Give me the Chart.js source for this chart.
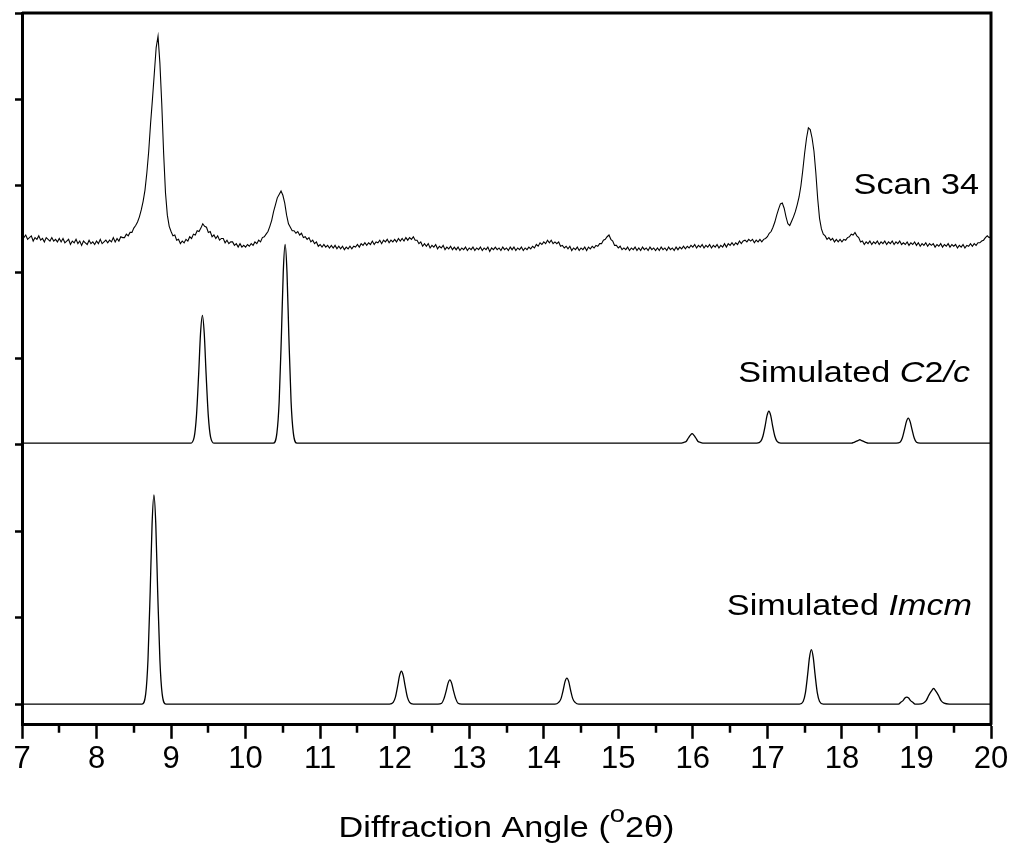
<!DOCTYPE html>
<html>
<head>
<meta charset="utf-8">
<script src="https://cdn.jsdelivr.net/npm/chart.js@4.4.0/dist/chart.umd.min.js"></script>
<style>
  html, body { margin: 0; padding: 0; background: #fff; }
  #xrd { display: block; }
</style>
</head>
<body>
<canvas id="xrd" width="1011" height="848"></canvas>
<script>
// x range of the plot, degrees 2-theta
const angleMin = 7;
const angleMax = 20;
const yTickValues = [0, 1, 2, 3, 4, 5, 6, 7, 8];

// measured scan: uniform step from 7.000 to 20.000 deg, one row per degree
const scanStart = 7;
const scanStep = 0.025;
const scan34 = [
  5.43,5.40,5.43,5.38,5.40,5.42,5.36,5.40,5.38,5.42,5.37,5.39,5.35,5.40,5.38,5.36,5.40,5.36,5.38,5.35,
  5.39,5.35,5.39,5.34,5.36,5.38,5.32,5.36,5.34,5.38,5.33,5.36,5.31,5.36,5.34,5.32,5.37,5.33,5.35,5.32,
  5.36,5.33,5.38,5.33,5.35,5.37,5.34,5.37,5.35,5.40,5.35,5.39,5.36,5.41,5.40,5.40,5.44,5.42,5.46,5.46,
  5.51,5.54,5.58,5.64,5.72,5.82,5.95,6.15,6.40,6.72,7.00,7.30,7.60,7.73,7.42,6.95,6.38,5.92,5.66,5.53,
  5.47,5.42,5.43,5.37,5.38,5.33,5.36,5.34,5.38,5.36,5.41,5.39,5.44,5.43,5.48,5.47,5.51,5.56,5.53,5.52,
  5.46,5.47,5.41,5.43,5.39,5.42,5.37,5.39,5.39,5.34,5.37,5.33,5.35,5.35,5.31,5.33,5.29,5.33,5.29,5.31,
  5.29,5.32,5.30,5.33,5.31,5.35,5.33,5.37,5.35,5.40,5.41,5.44,5.47,5.53,5.60,5.70,5.78,5.86,5.90,5.94,
  5.89,5.80,5.66,5.56,5.52,5.48,5.48,5.45,5.47,5.43,5.45,5.40,5.41,5.38,5.40,5.35,5.37,5.33,5.35,5.30,
  5.32,5.29,5.32,5.29,5.31,5.28,5.31,5.28,5.31,5.27,5.30,5.27,5.30,5.26,5.29,5.27,5.30,5.27,5.30,5.29,
  5.32,5.29,5.33,5.31,5.34,5.31,5.34,5.32,5.36,5.32,5.35,5.34,5.37,5.33,5.37,5.35,5.38,5.34,5.37,5.35,
  5.38,5.35,5.39,5.36,5.39,5.36,5.40,5.37,5.40,5.38,5.41,5.37,5.37,5.33,5.35,5.30,5.33,5.30,5.33,5.28,
  5.31,5.29,5.32,5.27,5.30,5.28,5.31,5.26,5.29,5.27,5.30,5.26,5.29,5.26,5.29,5.25,5.28,5.26,5.29,5.25,
  5.28,5.26,5.29,5.25,5.28,5.26,5.29,5.25,5.28,5.26,5.29,5.24,5.28,5.26,5.29,5.26,5.28,5.25,5.29,5.26,
  5.28,5.25,5.29,5.26,5.29,5.25,5.28,5.26,5.29,5.25,5.28,5.26,5.29,5.27,5.30,5.28,5.32,5.30,5.34,5.32,
  5.35,5.33,5.37,5.34,5.37,5.33,5.35,5.33,5.35,5.30,5.31,5.28,5.30,5.27,5.30,5.25,5.28,5.26,5.29,5.25,
  5.28,5.26,5.29,5.25,5.29,5.27,5.30,5.28,5.31,5.30,5.33,5.33,5.37,5.38,5.41,5.43,5.38,5.36,5.31,5.31,
  5.28,5.30,5.26,5.28,5.26,5.29,5.25,5.28,5.26,5.29,5.25,5.28,5.25,5.29,5.26,5.28,5.25,5.29,5.26,5.28,
  5.25,5.28,5.25,5.29,5.26,5.28,5.25,5.29,5.26,5.28,5.25,5.29,5.26,5.29,5.27,5.30,5.27,5.30,5.28,5.31,
  5.29,5.32,5.28,5.31,5.29,5.32,5.28,5.31,5.29,5.32,5.28,5.31,5.29,5.32,5.28,5.31,5.29,5.33,5.29,5.33,
  5.31,5.34,5.31,5.34,5.32,5.36,5.33,5.36,5.37,5.35,5.38,5.36,5.38,5.34,5.37,5.35,5.38,5.35,5.38,5.39,
  5.41,5.45,5.47,5.52,5.58,5.66,5.73,5.79,5.80,5.74,5.64,5.56,5.54,5.59,5.64,5.70,5.78,5.87,6.00,6.18,
  6.38,6.55,6.67,6.65,6.55,6.40,6.15,5.85,5.62,5.50,5.44,5.42,5.38,5.40,5.37,5.39,5.35,5.38,5.35,5.38,
  5.35,5.38,5.37,5.40,5.41,5.44,5.43,5.46,5.42,5.40,5.35,5.36,5.32,5.35,5.33,5.36,5.32,5.35,5.33,5.36,
  5.32,5.35,5.33,5.36,5.32,5.35,5.33,5.36,5.32,5.35,5.33,5.36,5.32,5.34,5.32,5.35,5.31,5.34,5.32,5.35,
  5.31,5.34,5.30,5.33,5.31,5.34,5.30,5.33,5.31,5.33,5.29,5.32,5.30,5.33,5.29,5.32,5.30,5.33,5.29,5.32,
  5.30,5.32,5.28,5.31,5.29,5.32,5.28,5.31,5.30,5.33,5.30,5.33,5.31,5.34,5.34,5.36,5.37,5.40,5.42,5.40,
  5.41
];

// simulated C2/c pattern, [angle, intensity]
const simC2c = [
  [7.00,3.02],
  [9.26,3.02],[9.31,3.09],[9.34,3.33],[9.37,3.82],[9.395,4.29],[9.42,4.50],
  [9.445,4.29],[9.47,3.82],[9.50,3.33],[9.53,3.09],[9.58,3.02],
  [10.37,3.02],[10.42,3.14],[10.45,3.50],[10.48,4.26],[10.505,5.00],[10.53,5.32],
  [10.555,5.00],[10.58,4.26],[10.61,3.50],[10.64,3.14],[10.69,3.02],
  [15.83,3.02],[15.88,3.03],[15.91,3.04],[15.94,3.08],[15.965,3.11],[15.99,3.13],
  [16.015,3.11],[16.04,3.08],[16.07,3.04],[16.10,3.03],[16.15,3.02],
  [16.86,3.02],[16.91,3.04],[16.94,3.10],[16.97,3.22],[16.995,3.34],[17.02,3.39],
  [17.045,3.34],[17.07,3.22],[17.10,3.10],[17.13,3.04],[17.18,3.02],
  [18.08,3.02],[18.13,3.02],[18.16,3.03],[18.19,3.04],[18.215,3.05],[18.24,3.06],
  [18.265,3.05],[18.29,3.04],[18.32,3.03],[18.35,3.02],[18.40,3.02],
  [18.73,3.02],[18.78,3.03],[18.81,3.08],[18.84,3.18],[18.865,3.27],[18.89,3.31],
  [18.915,3.27],[18.94,3.18],[18.97,3.08],[19.00,3.03],[19.05,3.02],
  [20.00,3.02]
];

// simulated Imcm pattern, [angle, intensity]
const simImcm = [
  [7.00,0],
  [8.61,0],[8.66,0.12],[8.69,0.51],[8.72,1.31],[8.745,2.08],[8.77,2.42],
  [8.795,2.08],[8.82,1.31],[8.85,0.51],[8.88,0.12],[8.93,0],
  [11.93,0],[11.98,0.02],[12.01,0.08],[12.04,0.21],[12.065,0.33],[12.09,0.38],
  [12.115,0.33],[12.14,0.21],[12.17,0.08],[12.20,0.02],[12.25,0],
  [12.58,0],[12.63,0.01],[12.66,0.06],[12.69,0.15],[12.715,0.24],[12.74,0.28],
  [12.765,0.24],[12.79,0.15],[12.82,0.06],[12.85,0.01],[12.90,0],
  [14.15,0],[14.20,0.02],[14.23,0.06],[14.26,0.16],[14.285,0.26],[14.31,0.30],
  [14.335,0.26],[14.36,0.16],[14.39,0.06],[14.42,0.02],[14.47,0],
  [17.43,0],[17.48,0.03],[17.51,0.13],[17.54,0.34],[17.565,0.54],[17.59,0.63],
  [17.615,0.54],[17.64,0.34],[17.67,0.13],[17.70,0.03],[17.75,0],
  [18.71,0],[18.76,0],[18.79,0.02],[18.82,0.04],[18.845,0.07],[18.87,0.08],
  [18.895,0.07],[18.92,0.04],[18.95,0.02],[18.98,0],[19.01,0],
  [19.03,0],[19.09,0.01],[19.13,0.04],[19.165,0.10],[19.20,0.15],[19.23,0.18],
  [19.26,0.15],[19.295,0.10],[19.33,0.04],[19.37,0.01],[19.44,0],
  [20.00,0]
];

// trace captions: text segments [text, italic], anchored at right end (angle, intensity)
const captionParts = [
  [['Scan 34', false]],
  [['Simulated ', false], ['C', true], ['2', false], ['/c', true]],
  [['Simulated ', false], ['Imcm', true]]
];
const captionAnchor = [[19.84, 5.91], [19.72, 3.73], [19.745, 1.03]];

const FONT = '"Liberation Sans", Arial, Helvetica, sans-serif';
const STRETCH = 1.14;

function pairsToPoints(arr) {
  return arr.map(p => ({ x: p[0], y: p[1] }));
}

function drawParts(ctx, parts, right, baseline, size) {
  let total = 0;
  const widths = parts.map(([txt, it]) => {
    ctx.font = (it ? 'italic ' : '') + size + 'px ' + FONT;
    const w = ctx.measureText(txt).width;
    total += w;
    return w;
  });
  ctx.save();
  ctx.translate(right - total * STRETCH, baseline);
  ctx.scale(STRETCH, 1);
  let x = 0;
  parts.forEach(([txt, it], i) => {
    ctx.font = (it ? 'italic ' : '') + size + 'px ' + FONT;
    ctx.fillText(txt, x, 0);
    x += widths[i];
  });
  ctx.restore();
}

const decorations = {
  id: 'decorations',
  afterDraw(chart) {
    const { ctx, chartArea: a, scales: { x, y } } = chart;
    ctx.save();
    ctx.strokeStyle = '#000';
    ctx.fillStyle = '#000';

    // top and right frame
    ctx.lineWidth = 3;
    ctx.beginPath();
    ctx.moveTo(a.left, a.top);
    ctx.lineTo(a.right, a.top);
    ctx.lineTo(a.right, a.bottom);
    ctx.stroke();

    // minor x ticks
    ctx.lineWidth = 2.5;
    ctx.beginPath();
    for (let v = angleMin + 0.5; v < angleMax; v += 1) {
      const px = Math.round(x.getPixelForValue(v));
      ctx.moveTo(px, a.bottom);
      ctx.lineTo(px, a.bottom + 8);
    }
    ctx.stroke();

    // captions
    ctx.textBaseline = 'alphabetic';
    captionParts.forEach((parts, i) => {
      const [ax, ay] = captionAnchor[i];
      drawParts(ctx, parts, x.getPixelForValue(ax), y.getPixelForValue(ay), 30);
    });

    // x axis title with raised degree mark
    const cx = (a.left + a.right) / 2;
    const base = 837;
    ctx.font = '30px ' + FONT;
    const w1 = ctx.measureText('Diffraction Angle (').width;
    const w3 = ctx.measureText('2\u03B8)').width;
    ctx.font = '24px ' + FONT;
    const w2 = ctx.measureText('o').width;
    const total = (w1 + w2 + w3) * STRETCH;
    ctx.save();
    ctx.translate(cx - total / 2, base);
    ctx.scale(STRETCH, 1);
    ctx.font = '30px ' + FONT;
    ctx.fillText('Diffraction Angle (', 0, 0);
    ctx.font = '24px ' + FONT;
    ctx.fillText('o', w1, -15);
    ctx.font = '30px ' + FONT;
    ctx.fillText('2\u03B8)', w1 + w2, 0);
    ctx.restore();

    ctx.restore();
  }
};

const lineStyle = {
  borderColor: '#000',
  borderWidth: 1.3,
  pointRadius: 0,
  fill: false
};

new Chart(document.getElementById('xrd'), {
  type: 'line',
  data: {
    datasets: [
      Object.assign({}, lineStyle, {
        label: 'Scan 34',
        data: scan34.map((v, i) => ({ x: scanStart + i * scanStep, y: v })),
        tension: 0,
        borderWidth: 1.1
      }),
      Object.assign({}, lineStyle, {
        label: 'Simulated C2/c',
        data: pairsToPoints(simC2c),
        cubicInterpolationMode: 'monotone'
      }),
      Object.assign({}, lineStyle, {
        label: 'Simulated Imcm',
        data: pairsToPoints(simImcm),
        cubicInterpolationMode: 'monotone'
      })
    ]
  },
  options: {
    responsive: false,
    devicePixelRatio: 1,
    animation: false,
    layout: { padding: { left: 15, right: 20, top: 13, bottom: 68 } },
    plugins: {
      legend: { display: false },
      tooltip: { enabled: false }
    },
    scales: {
      x: {
        type: 'linear',
        min: angleMin,
        max: angleMax,
        ticks: {
          stepSize: 1,
          color: '#000',
          padding: 2,
          font: { family: FONT, size: 31 }
        },
        grid: {
          drawOnChartArea: false,
          drawTicks: true,
          tickLength: 14,
          tickWidth: 2.5,
          tickColor: '#000'
        },
        border: { display: true, color: '#000', width: 3 }
      },
      y: {
        type: 'linear',
        min: -0.24,
        max: 8,
        afterBuildTicks: (axis) => {
          axis.ticks = yTickValues.map(v => ({ value: v }));
        },
        ticks: { display: false },
        grid: {
          drawOnChartArea: false,
          drawTicks: true,
          tickLength: 7,
          tickWidth: 2.5,
          tickColor: '#000'
        },
        border: { display: true, color: '#000', width: 3 }
      }
    }
  },
  plugins: [decorations]
});
</script>
</body>
</html>
